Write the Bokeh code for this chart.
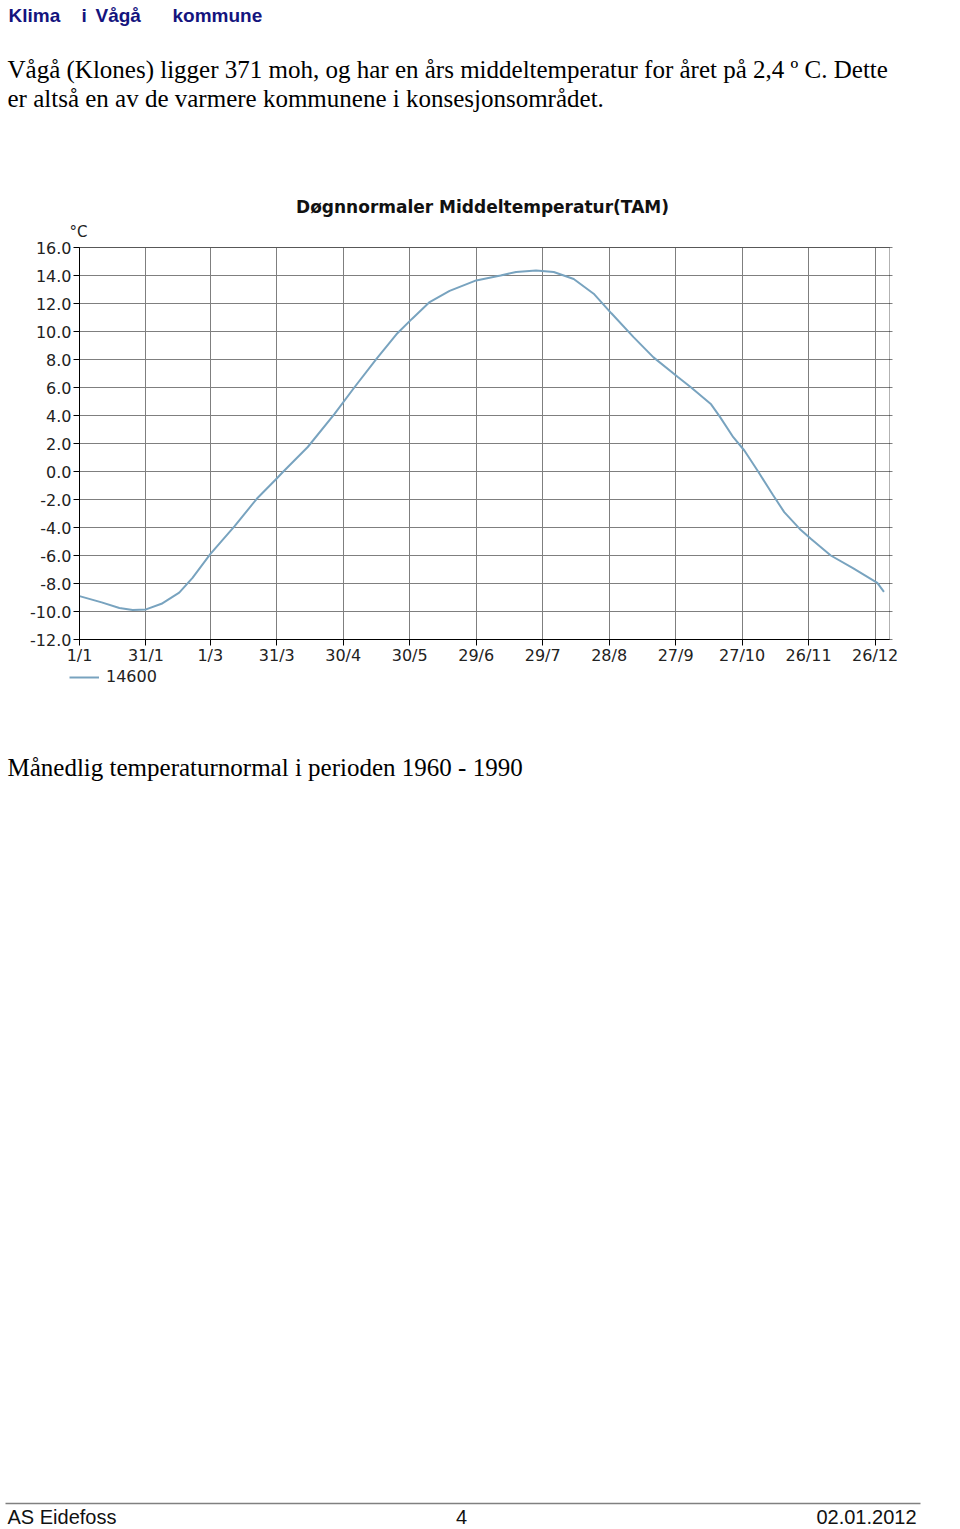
from bokeh.plotting import figure
from bokeh.models import (Legend, LegendItem, FixedTicker, NumeralTickFormatter, Range1d,
                          LinearAxis, Grid, BoxAnnotation)
from bokeh.embed import file_html
from bokeh.resources import INLINE
from bokeh.core.properties import value

# ---- data: day of year (0 = 1 Jan) and daily normal mean temperature (°C)
days = [0, 10, 18, 24, 30, 37, 45, 51, 59, 70, 80, 89, 92, 103, 115, 124, 134, 143, 150,
        158, 167, 179, 190, 197, 206, 214, 223, 232, 240, 250, 259, 270, 276, 285, 289,
        295, 300, 306, 313, 318, 325, 330, 339, 349, 360, 363]
temps = [-8.9, -9.35, -9.75, -9.9, -9.85, -9.45, -8.65, -7.6, -5.9, -3.9, -1.95, -0.5, 0.0,
         1.75, 4.1, 6.0, 8.05, 9.8, 10.9, 12.1, 12.9, 13.65, 14.0, 14.25, 14.35, 14.25, 13.75,
         12.7, 11.3, 9.6, 8.15, 6.75, 6.0, 4.8, 3.9, 2.45, 1.5, 0.05, -1.7, -2.9, -4.1, -4.8,
         -6.0, -6.9, -7.95, -8.6]
series_name = "14600"

x_tick_days = [0, 30, 59, 89, 119, 149, 179, 209, 239, 269, 299, 329, 359]
x_tick_labels = ["1/1", "31/1", "1/3", "31/3", "30/4", "30/5", "29/6", "29/7", "28/8",
                 "27/9", "27/10", "26/11", "26/12"]
y_ticks = [-12, -10, -8, -6, -4, -2, 0, 2, 4, 6, 8, 10, 12, 14, 16]

chart_title = "Døgnnormaler Middeltemperatur(TAM)"
unit_label = "°C"
header_words = ["Klima", "i", "Vågå", "kommune"]
body_line1 = "Vågå (Klones) ligger 371 moh,  og har en års middeltemperatur for året på 2,4 º C.  Dette"
body_line2 = "er altså en av de varmere kommunene i konsesjonsområdet."
caption = "Månedlig temperaturnormal i perioden 1960 - 1990"
footer_left, footer_mid, footer_right = "AS Eidefoss", "4", "02.01.2012"

# ---- page geometry (pixels); the figure frame is the whole page
W, H = 960, 1529
FL, FR, FT, FB = 79, 889, 247, 639          # chart plotting area on the page
XMIN, XMAX, YMIN, YMAX = 0, 365.5, -12, 16  # chart axis extents

px_day = (FR - FL) / (XMAX - XMIN)
px_deg = (FB - FT) / (YMAX - YMIN)
days_range = Range1d(XMIN - FL / px_day, XMIN + (W - FL) / px_day)
temp_range = Range1d(YMIN - (H - FB) / px_deg, YMAX + FT / px_deg)

p = figure(width=W, height=H, x_range=Range1d(0, W), y_range=Range1d(H, 0),
           extra_x_ranges={"days": days_range}, extra_y_ranges={"temp": temp_range},
           x_axis_type=None, y_axis_type=None, title=None,
           output_backend="svg", toolbar_location=None,
           min_border=0, min_border_left=0, min_border_right=0, min_border_top=0,
           min_border_bottom=0, outline_line_color=None,
           background_fill_color="white", border_fill_color="white")

chart = dict(x_range_name="days", y_range_name="temp")

# grid (horizontal lines poke 3 px out to the right of the frame, as in the original)
grid_color = "#7f7f7f"
right_stub = 3 / px_day
if "cross_bounds" in Grid.properties():
    p.add_layout(Grid(dimension=0, ticker=FixedTicker(ticks=x_tick_days), bounds=(XMIN, XMAX),
                      cross_bounds=(YMIN, YMAX), grid_line_color=grid_color, **chart))
    p.add_layout(Grid(dimension=1, ticker=FixedTicker(ticks=y_ticks), bounds=(YMIN, YMAX),
                      cross_bounds=(XMIN, XMAX + right_stub), grid_line_color=grid_color,
                      **chart))
else:
    gx = LinearAxis(ticker=FixedTicker(ticks=x_tick_days), fixed_location=YMIN, bounds=(XMIN, XMAX),
                    major_tick_in=FB - FT, major_tick_out=0, major_tick_line_color=grid_color,
                    axis_line_color=None, minor_tick_line_color=None,
                    major_label_overrides={d: "" for d in x_tick_days}, **chart)
    gy = LinearAxis(ticker=FixedTicker(ticks=y_ticks), fixed_location=XMIN, bounds=(YMIN, YMAX),
                    major_tick_in=FR - FL + 3, major_tick_out=0, major_tick_line_color=grid_color,
                    axis_line_color=None, minor_tick_line_color=None,
                    major_label_overrides={t: "" for t in y_ticks}, **chart)
    p.add_layout(gx, "below")
    p.add_layout(gy, "left")

# frame outline of the chart
p.add_layout(BoxAnnotation(left=XMIN, right=XMAX, bottom=YMIN, top=YMAX, fill_alpha=0,
                           line_color="black", line_width=1, level="underlay", **chart))

line_r = p.line(days, temps, line_color="#78a3bf", line_width=2, **chart)

axis_style = dict(axis_line_color="black", major_tick_line_color="black", major_tick_out=6,
                  major_tick_in=0, minor_tick_line_color=None,
                  major_label_text_font="DejaVu Sans", major_label_text_font_size="16px",
                  major_label_text_color="#222222")
xaxis = LinearAxis(ticker=FixedTicker(ticks=x_tick_days), fixed_location=YMIN,
                   bounds=(XMIN, XMAX), major_label_standoff=0,
                   major_label_overrides={d: l for d, l in zip(x_tick_days, x_tick_labels)},
                   **axis_style, **chart)
yaxis = LinearAxis(ticker=FixedTicker(ticks=y_ticks), fixed_location=XMIN,
                   bounds=(YMIN, YMAX), major_label_standoff=2,
                   formatter=NumeralTickFormatter(format="0.0"), **axis_style, **chart)
p.add_layout(xaxis, "below")
p.add_layout(yaxis, "left")

legend = Legend(items=[LegendItem(label=series_name, renderers=[line_r])],
                location=(69, H - 686), padding=0, margin=0, spacing=0,
                border_line_color=None, background_fill_alpha=0,
                glyph_width=30, glyph_height=16, label_standoff=7, label_height=16,
                label_text_font="DejaVu Sans", label_text_font_size="16px",
                label_text_color="#222222")
p.add_layout(legend)

p.text(x=[482], y=[206], text=[chart_title], text_font=value("DejaVu Sans"),
       text_font_size=value("17px"), text_font_style="bold", text_color="#111111",
       text_align="center", text_baseline="middle")
p.text(x=[78], y=[231], text=[unit_label], text_font=value("DejaVu Sans"),
       text_font_size=value("15px"), text_color="#222222",
       text_align="center", text_baseline="middle")

# ---- page texts (y = vertical middle of each line)
p.text(x=[8, 81, 95, 172], y=[15] * 4, text=header_words, text_font=value("Liberation Sans"),
       text_font_size=value("19px"), text_font_style="bold", text_color="#14147e",
       text_baseline="middle")
p.text(x=[7, 7, 7], y=[68.5, 97.5, 767], text=[body_line1, body_line2, caption],
       text_font=value("Liberation Serif"), text_font_size=value("25px"),
       text_color="black", text_baseline="middle")
p.segment(x0=[5], y0=[1503], x1=[920], y1=[1503], line_color="#808080", line_width=1.5)
p.text(x=[7, 461, 916], y=[1516] * 3, text=[footer_left, footer_mid, footer_right],
       text_align=["left", "center", "right"], text_font=value("Liberation Sans"),
       text_font_size=value("20px"), text_color="#111111", text_baseline="middle")

open("out.html", "w").write(file_html(p, INLINE))
